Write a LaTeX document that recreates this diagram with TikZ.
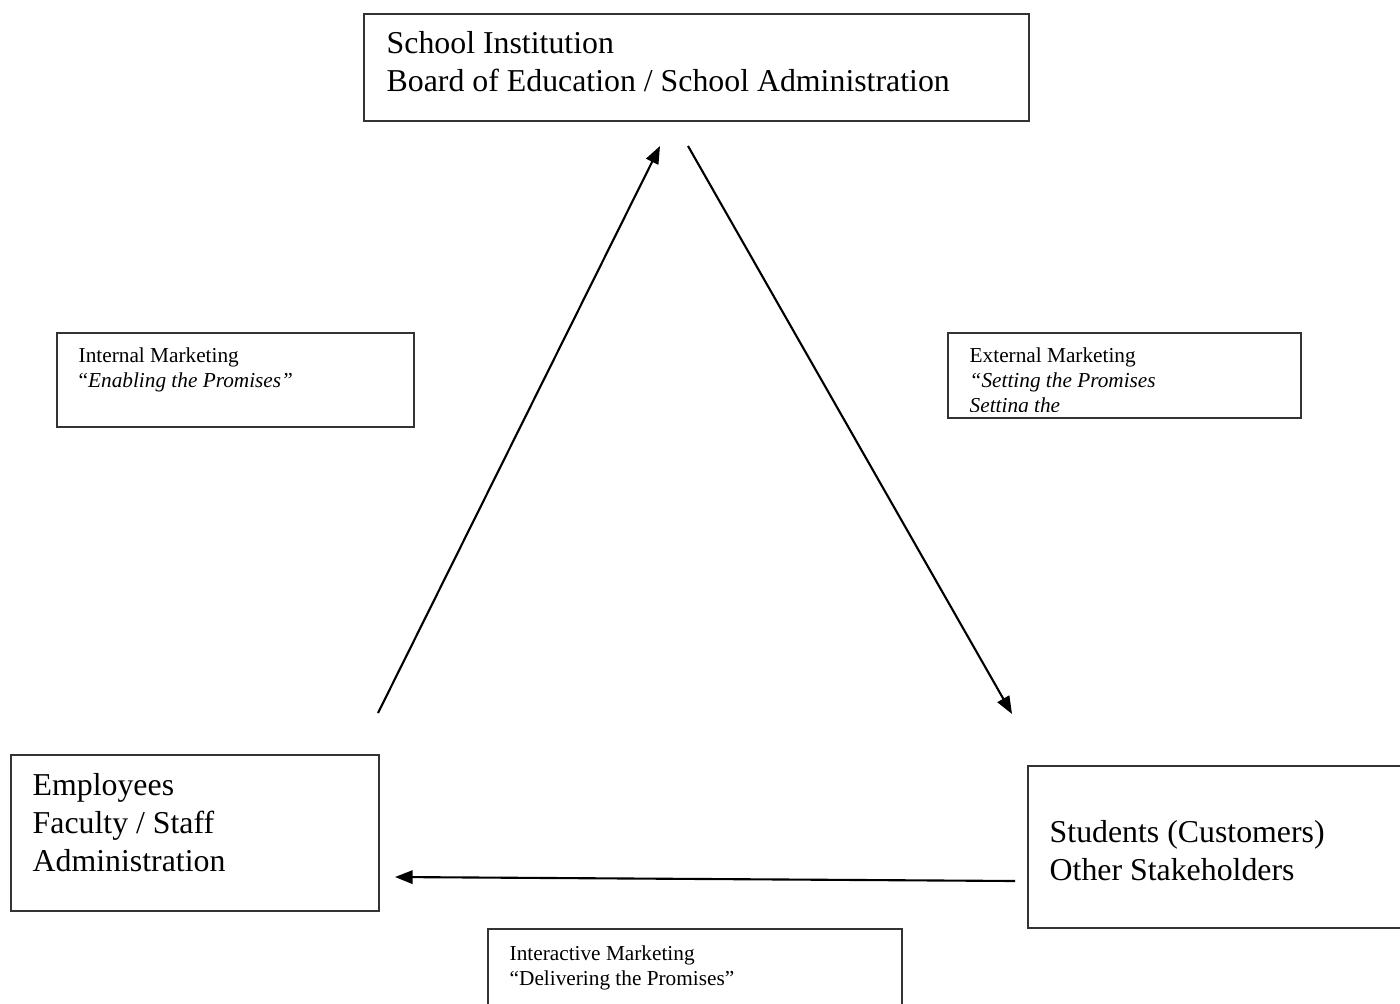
\documentclass[tikz,border=0pt]{standalone}
\usepackage{fontspec}
\setmainfont{Liberation Serif}
\usetikzlibrary{arrows.meta,positioning}

\tikzset{
  box/.style={draw=black!80, line width=0.55pt, rectangle, inner sep=0pt, anchor=north west},
  bigtext/.style={anchor=north west, align=left, inner sep=0pt,
    font=\fontsize{9.05}{10.8}\selectfont},
  smalltext/.style={anchor=north west, align=left, inner sep=0pt,
    font=\fontsize{6.05}{7.1}\selectfont},
  arr/.style={-{Triangle[length=5pt,width=3.8pt]}, line width=0.6pt}
}

\begin{document}
\begin{tikzpicture}[x=0.01cm,y=-0.01cm]
\useasboundingbox (0,0) rectangle (1400,1003);
\clip (0,0) rectangle (1400,1003);
\fill[white] (0,0) rectangle (1400,1003);

% the three parties
\node[box, minimum width=6.65cm, minimum height=1.07cm] (school) at (363,13) {};
\node[box, minimum width=3.68cm, minimum height=1.56cm] (staff) at (10,754) {};
\node[box, minimum width=3.93cm, minimum height=1.62cm] (students) at (1027,765) {};

\node[bigtext] (schooltxt) at (386,31) {School Institution\\Board of Education / School Administration};
\node[bigtext] (stafftxt) at (32,773) {Employees\\Faculty / Staff\\Administration};
\node[bigtext] (studentstxt) at (1049,820) {Students (Customers)\\Other Stakeholders};

% the three kinds of marketing
\node[box, minimum width=3.57cm, minimum height=0.94cm] (internal) at (56,332) {};
\node[box, minimum width=3.53cm, minimum height=0.85cm] (external) at (947,332) {};
\node[box, minimum width=4.14cm, minimum height=0.87cm] (interactive) at (487,928) {};

\node[smalltext] (internaltxt) at (78,347) {Internal Marketing\\“\textit{Enabling the Promises”}};
\begin{scope}
  \clip (external.north west) rectangle ([yshift=0.07cm]external.south east);
  \node[smalltext] (externaltxt) at (969,347) {External Marketing\\\textit{“Setting the Promises}\\\textit{Setting the}};
\end{scope}
\node[smalltext] (interactivetxt) at (509,945) {Interactive Marketing\\“Delivering the Promises”};

% arrows
\coordinate (staffend) at (378,713);
\coordinate (schoolin) at (660,146);
\coordinate (schoolout) at (688,146);
\coordinate (studentsin) at (1012,714);
\coordinate (studentsout) at (1015,881);
\coordinate (staffin) at (395,877);

\draw[arr] (staffend) -- (schoolin);
\draw[arr] (schoolout) -- (studentsin);
\draw[arr] (studentsout) -- (staffin);

\end{tikzpicture}
\end{document}
